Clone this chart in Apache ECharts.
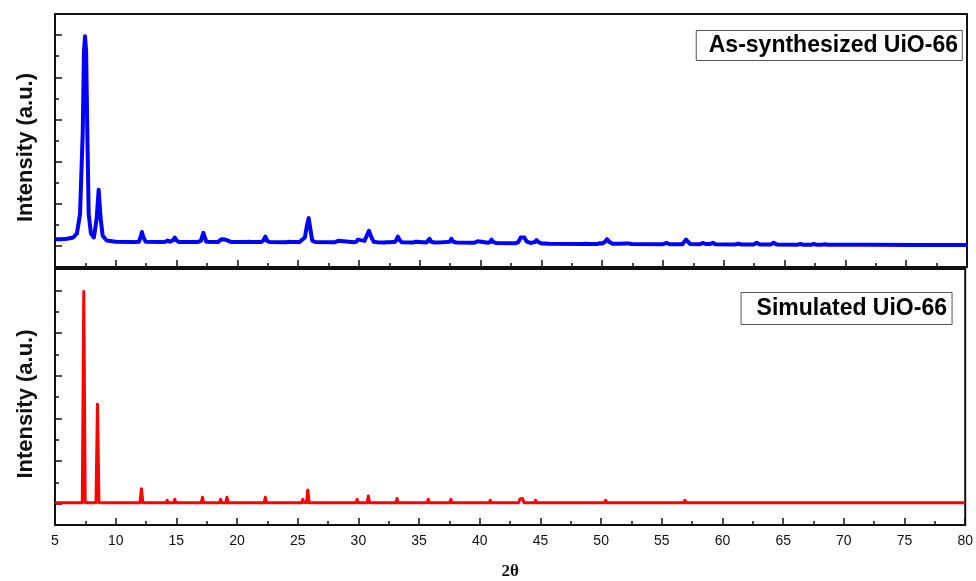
<!DOCTYPE html>
<html>
<head>
<meta charset="utf-8">
<title>UiO-66 XRD</title>
<script src="https://cdn.jsdelivr.net/npm/echarts@6/dist/echarts.min.js"></script>
<style>
  html, body { margin: 0; padding: 0; background: #fff; }
  #chart { width: 976px; height: 581px; }
</style>
</head>
<body>
<div id="chart"></div>
<script>
// labels
const panelLabels = ['As-synthesized UiO-66', 'Simulated UiO-66'];
const yAxisName = 'Intensity (a.u.)';
const xAxisName = '2θ';
const yMajorTicks = [0, 1, 2, 3, 4, 5];
const yMinorTicks = [0.5, 1.5, 2.5, 3.5, 4.5];

// as-synthesized pattern, [2θ, intensity]
const asSynthesized = [
  [5.0,0.16],[5.5,0.16],[6.0,0.17],[6.5,0.2],[6.8,0.29],[7.06,0.76],[7.28,2.68],[7.38,4.6],[7.47,4.97],[7.56,4.6],
  [7.66,2.68],[7.77,0.76],[7.95,0.3],[8.2,0.2],[8.43,0.66],[8.59,1.33],[8.75,0.66],[8.92,0.24],[9.25,0.13],[10.0,0.1],
  [11.5,0.09],[11.9,0.1],[12.05,0.22],[12.15,0.33],[12.25,0.22],[12.45,0.1],[13.8,0.09],
  [14.1,0.1],[14.27,0.13],[14.45,0.1],[14.7,0.13],[14.85,0.2],[15.0,0.13],[15.2,0.09],[16.7,0.09],
  [17.0,0.12],[17.1,0.22],[17.2,0.31],[17.3,0.22],[17.45,0.1],[18.4,0.09],
  [18.55,0.11],[18.7,0.16],[18.85,0.12],[19.0,0.15],[19.12,0.19],[19.27,0.12],[19.5,0.09],[20.7,0.09],
  [20.9,0.1],[21.02,0.12],[21.15,0.095],[21.95,0.09],[22.15,0.13],[22.3,0.22],[22.45,0.12],[22.7,0.09],
  [24.0,0.085],[24.2,0.1],[24.32,0.12],[24.45,0.09],[25.1,0.09],[25.3,0.14],[25.42,0.18],[25.55,0.2],
  [25.7,0.45],[25.86,0.66],[26.0,0.4],[26.15,0.13],[26.4,0.09],[28.0,0.085],[28.15,0.095],[28.28,0.12],[28.42,0.09],
  [29.6,0.085],[29.77,0.1],[29.9,0.15],[30.05,0.11],[30.45,0.12],[30.65,0.25],[30.82,0.36],[30.98,0.23],[31.2,0.1],[31.5,0.085],
  [32.1,0.08],[32.3,0.09],[32.42,0.11],[32.55,0.085],[33.0,0.1],[33.1,0.16],[33.2,0.22],[33.32,0.15],[33.5,0.085],
  [34.45,0.08],[34.6,0.09],[34.7,0.1],[34.82,0.085],[35.55,0.08],[35.68,0.11],[35.8,0.17],[35.93,0.1],[36.2,0.08],
  [36.8,0.085],[36.9,0.1],[37.05,0.09],[37.45,0.1],[37.6,0.17],[37.75,0.1],[38.0,0.08],
  [39.5,0.075],[39.65,0.085],[39.75,0.11],[39.87,0.08],[40.6,0.075],[40.77,0.09],[40.9,0.15],[41.03,0.09],[41.3,0.07],
  [42.9,0.065],[43.1,0.09],[43.3,0.2],[43.45,0.24],[43.6,0.2],[43.8,0.1],[44.1,0.07],
  [44.45,0.09],[44.6,0.14],[44.75,0.09],[45.0,0.06],[45.25,0.06],[45.4,0.075],[45.6,0.05],
  [48.4,0.045],[48.6,0.05],[48.75,0.06],[48.9,0.045],[49.6,0.045],[49.8,0.065],[50.0,0.06],[50.2,0.09],
  [50.4,0.16],[50.6,0.09],[50.85,0.05],[51.15,0.05],[51.3,0.07],[51.45,0.05],[51.85,0.06],[52.0,0.1],[52.15,0.06],[52.4,0.045],
  [55.0,0.04],[55.3,0.07],[55.55,0.04],[56.6,0.04],[56.75,0.1],[56.9,0.15],[57.05,0.1],[57.25,0.045],
  [58.05,0.04],[58.3,0.07],[58.5,0.045],[58.9,0.045],[59.1,0.075],[59.3,0.04],
  [60.9,0.035],[61.2,0.05],[61.45,0.035],[62.45,0.035],[62.7,0.075],[62.95,0.035],
  [63.85,0.035],[64.1,0.075],[64.35,0.035],[66.1,0.03],[66.3,0.045],[66.5,0.03],
  [67.2,0.03],[67.4,0.045],[67.6,0.03],[68.1,0.03],[68.3,0.04],[68.5,0.028],
  [72.0,0.025],[76.0,0.02],[80.0,0.02]
];

// simulated pattern, [2θ, intensity]
const simulated = [
  [5.0,0.02],[7.25,0.02],[7.37,4.97],[7.49,0.02],[8.38,0.02],[8.5,2.33],[8.62,0.02],
  [12.0,0.02],[12.12,0.35],[12.24,0.02],[14.15,0.02],[14.24,0.08],[14.33,0.02],[14.78,0.02],[14.87,0.1],[14.96,0.02],
  [17.05,0.02],[17.15,0.15],[17.25,0.02],[18.56,0.02],[18.65,0.1],[18.74,0.02],[19.07,0.02],[19.17,0.15],[19.27,0.02],
  [20.95,0.02],[21.04,0.06],[21.13,0.02],[22.23,0.02],[22.33,0.15],[22.43,0.02],[24.24,0.02],[24.33,0.06],[24.42,0.02],
  [25.33,0.02],[25.42,0.1],[25.5,0.03],[25.72,0.02],[25.83,0.32],[25.94,0.02],
  [28.16,0.02],[28.25,0.06],[28.34,0.02],[29.81,0.02],[29.9,0.1],[29.99,0.02],[30.72,0.02],[30.82,0.18],[30.92,0.02],
  [32.27,0.02],[32.36,0.06],[32.45,0.02],[33.08,0.02],[33.18,0.12],[33.28,0.02],[34.6,0.02],[34.69,0.05],[34.78,0.02],
  [35.66,0.02],[35.76,0.1],[35.86,0.02],[36.71,0.02],[36.8,0.05],[36.89,0.02],[37.52,0.02],[37.62,0.1],[37.72,0.02],
  [39.59,0.02],[39.68,0.06],[39.77,0.02],[40.77,0.02],[40.86,0.08],[40.95,0.02],
  [43.2,0.02],[43.32,0.11],[43.42,0.08],[43.52,0.12],[43.65,0.02],[44.5,0.02],[44.6,0.08],[44.7,0.02],
  [45.32,0.02],[45.4,0.05],[45.48,0.02],[48.62,0.02],[48.7,0.045],[48.78,0.02],
  [50.27,0.02],[50.37,0.08],[50.47,0.02],[51.22,0.02],[51.3,0.045],[51.38,0.02],[51.92,0.02],[52.0,0.045],[52.08,0.02],
  [55.22,0.02],[55.3,0.04],[55.38,0.02],[56.8,0.02],[56.9,0.08],[57.0,0.02],
  [58.12,0.02],[58.2,0.045],[58.28,0.02],[59.02,0.02],[59.1,0.045],[59.18,0.02],
  [62.62,0.02],[62.7,0.055],[62.78,0.02],[63.92,0.02],[64.0,0.055],[64.08,0.02],
  [66.22,0.02],[66.3,0.04],[66.38,0.02],[68.22,0.02],[68.3,0.04],[68.38,0.02],[80.0,0.02]
];

const sans = 'Arial, "Liberation Sans", sans-serif';
const serif = '"Times New Roman", "Liberation Serif", serif';

function makeXAxis(gridIndex, withLabels) {
  return {
    type: 'value',
    gridIndex: gridIndex,
    position: 'bottom',
    min: 5,
    max: 80,
    interval: 5,
    splitLine: { show: false },
    axisLine: { show: true, onZero: false, lineStyle: { color: '#111', width: 2 } },
    axisTick: { show: true, inside: true, length: 7, lineStyle: { color: '#111', width: 1.5 } },
    minorTick: { show: true, splitNumber: 2, length: 4, lineStyle: { color: '#111', width: 1.5 } },
    axisLabel: { show: withLabels, color: '#111', fontSize: 14, fontFamily: sans, margin: 9, showMinLabel: true, showMaxLabel: true },
    name: withLabels ? xAxisName : '',
    nameLocation: 'middle',
    nameGap: 38,
    nameTextStyle: { fontFamily: serif, fontWeight: 'bold', fontSize: 17, color: '#111' }
  };
}

function makeYAxis(gridIndex, ticks, tickLen, withName) {
  return {
    type: 'value',
    gridIndex: gridIndex,
    position: 'left',
    offset: 0,
    min: -0.5,
    max: 5.5,
    splitLine: { show: false },
    axisLine: { show: withName, onZero: false, lineStyle: { color: '#111', width: 2 } },
    axisTick: { show: true, inside: true, length: tickLen, customValues: ticks, lineStyle: { color: '#111', width: 1.5 } },
    axisLabel: { show: false },
    name: withName ? yAxisName : '',
    nameLocation: 'middle',
    nameRotate: 90,
    nameGap: 18,
    nameTextStyle: { fontFamily: sans, fontWeight: 'bold', fontSize: 22, color: '#111', padding: [0, 14, 0, 0] }
  };
}

const chart = echarts.init(document.getElementById('chart'));
chart.setOption({
  animation: false,
  backgroundColor: '#fff',
  title: [
    {
      text: panelLabels[0], right: 13, top: 30,
      padding: [4, 5, 4, 13], borderWidth: 1, borderColor: '#555',
      textStyle: { fontFamily: sans, fontWeight: 'bold', fontSize: 23, color: '#000' }
    },
    {
      text: panelLabels[1], right: 24, top: 292,
      padding: [5, 5, 5, 16], borderWidth: 1, borderColor: '#555',
      textStyle: { fontFamily: sans, fontWeight: 'bold', fontSize: 23, color: '#000' }
    }
  ],
  grid: [
    { left: 55, right: 9, top: 14, height: 253, show: true, borderColor: '#111', borderWidth: 2 },
    { left: 55, right: 9, top: 269, height: 258, show: true, borderColor: '#111', borderWidth: 2 }
  ],
  xAxis: [makeXAxis(0, false), makeXAxis(1, true)],
  yAxis: [
    makeYAxis(0, yMajorTicks, 7, true),
    makeYAxis(0, yMinorTicks, 4, false),
    makeYAxis(1, yMajorTicks, 7, true),
    makeYAxis(1, yMinorTicks, 4, false)
  ],
  series: [
    {
      name: panelLabels[0], type: 'line', xAxisIndex: 0, yAxisIndex: 0,
      data: asSynthesized, showSymbol: false, clip: true,
      lineStyle: { color: '#0000ff', width: 4, join: 'round' }
    },
    {
      name: panelLabels[1], type: 'line', xAxisIndex: 1, yAxisIndex: 2,
      data: simulated, showSymbol: false, clip: true,
      lineStyle: { color: '#ff0000', width: 3, join: 'round' }
    }
  ]
});
</script>
</body>
</html>
